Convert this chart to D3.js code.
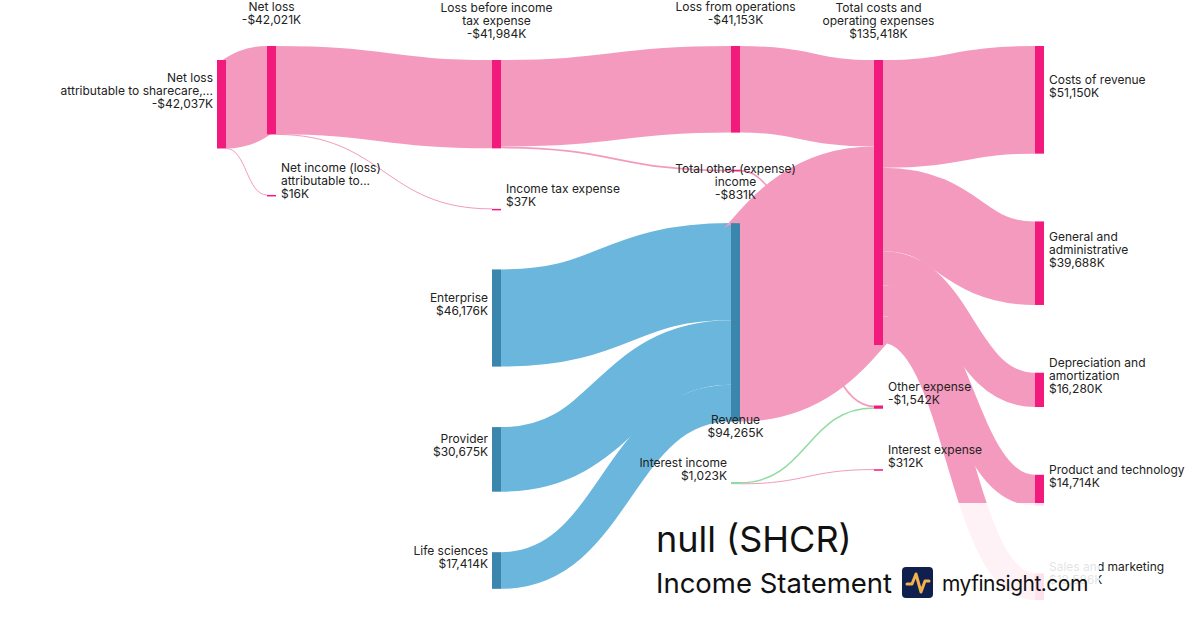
<!DOCTYPE html>
<html>
<head>
<meta charset="utf-8">
<script src="https://cdn.jsdelivr.net/npm/d3@7"></script>
<style>
  body { margin: 0; background: #fff; }
  svg { display: block; font-family: Inter, "Noto Sans", sans-serif; }
</style>
</head>
<body>
<svg id="chart"></svg>
<script>
const width = 1200, height = 630;

// ---- data ----
const nodeNames = [
  "Net loss\nattributable to sharecare,...",
  "Net loss",
  "Net income (loss)\nattributable to...",
  "Loss before income\ntax expense",
  "Income tax expense",
  "Enterprise",
  "Provider",
  "Life sciences",
  "Loss from operations",
  "Total other (expense)\nincome",
  "Revenue",
  "Interest income",
  "Total costs and\noperating expenses",
  "Other expense",
  "Interest expense",
  "Costs of revenue",
  "General and\nadministrative",
  "Depreciation and\namortization",
  "Product and technology",
  "Sales and marketing"
];
const nodeValues = [-42037, -42021, 16, -41984, 37, 46176, 30675, 17414, -41153, -831,
                    94265, 1023, 135418, -1542, 312, 51150, 39688, 16280, 14714, 12586];
const nodeStage = [0, 1, 1, 2, 2, 2, 2, 2, 3, 3, 3, 3, 4, 4, 4, 5, 5, 5, 5, 5];
const nodeKind = ["loss", "loss", "loss", "loss", "loss", "rev", "rev", "rev", "loss", "loss",
                  "rev", "inc", "loss", "loss", "loss", "loss", "loss", "loss", "loss", "loss"];

const linkSources = [0, 0, 1, 1, 3, 3, 8, 5, 6, 7, 10, 9, 11, 11, 12, 12, 12, 12, 12];
const linkTargets = [1, 2, 3, 4, 8, 9, 12, 10, 10, 10, 12, 13, 13, 14, 15, 16, 17, 18, 19];
const linkValues = [42021, 16, 41984, 37, 41153, 831, 41153, 46176, 30675, 17414, 94265,
                    831, 711, 312, 51150, 39688, 16280, 14714, 12586];
const linkKind = ["loss", "loss", "loss", "loss", "loss", "loss", "loss", "rev", "rev", "rev", "loss",
                  "loss", "inc", "loss", "loss", "loss", "loss", "loss", "loss"];

// ---- look ----
const nodeColor = { loss: "#f21a7c", rev: "#3a86ad", inc: "#8fdca0" };
const linkColor = { loss: "#f49abe", rev: "#6ab6dc", inc: "#8fdca0" };
const labelSide = ["left", "top", "right", "top", "right", "left", "left", "left", "top", "bottom",
                   "bottom", "left", "top", "right", "right", "right", "right", "right", "right", "right"];

const svg = d3.select("#chart").attr("width", width).attr("height", height);

const stageX = d3.scaleOrdinal().domain(d3.range(6)).range([217, 267, 492, 731, 874, 1035]);
const nodeW = 9;
const yTop = 46, yBottom = 600, py = 60.5, spread = 30;

const nodes = nodeNames.map((name, i) => ({
  index: i, name, signed: nodeValues[i], stage: nodeStage[i], kind: nodeKind[i],
  side: labelSide[i], lines: name.split("\n").length + 1, sourceLinks: [], targetLinks: []
}));
const links = linkValues.map((v, i) => ({
  index: i, source: nodes[linkSources[i]], target: nodes[linkTargets[i]], value: v, kind: linkKind[i]
}));
links.forEach(l => { l.source.sourceLinks.push(l); l.target.targetLinks.push(l); });
nodes.forEach(n => {
  n.value = Math.max(d3.sum(n.sourceLinks, l => l.value), d3.sum(n.targetLinks, l => l.value));
  n.x0 = stageX(n.stage); n.x1 = n.x0 + nodeW;
  n.minTop = yTop + Math.max(0, n.lines - 2) * 14;     // room for the label above
  n.gap = n.side === "bottom" ? py / 2 : py;            // room kept above the node
});

const ky = d3.scaleLinear().domain([0, d3.max(nodes, d => d.value)]).range([0, 285]);
links.forEach(l => l.width = ky(l.value));

// ---- layout: stack each stage, let pass-through nodes sit between their neighbours ----
const stages = d3.groups(nodes, d => d.stage).sort((a, b) => a[0] - b[0]).map(d => d[1]);
const byY = (a, b) => a.y0 - b.y0;

function sortLinks() {
  nodes.forEach(n => {
    n.sourceLinks.sort((a, b) => byY(a.target, b.target) || a.index - b.index);
    n.targetLinks.sort((a, b) => byY(a.source, b.source) || a.index - b.index);
  });
}
function targetTop(source, target) {
  let y = source.y0 - (source.sourceLinks.length - 1) * spread / 2;
  for (const l of source.sourceLinks) { if (l.target === target) break; y += l.width + spread; }
  for (const l of target.targetLinks) { if (l.source === source) break; y -= l.width; }
  return y;
}
function sourceTop(source, target) {
  let y = target.y0 - (target.targetLinks.length - 1) * spread / 2;
  for (const l of target.targetLinks) { if (l.source === source) break; y += l.width + spread; }
  for (const l of source.sourceLinks) { if (l.target === target) break; y -= l.width; }
  return y;
}
function anchor(n) {
  let y = 0, w = 0;
  n.targetLinks.forEach(l => { y += targetTop(l.source, n) * l.source.value; w += l.source.value; });
  n.sourceLinks.forEach(l => { y += sourceTop(n, l.target) * l.target.value; w += l.target.value; });
  return y / w;
}
function stackStage(col, useAnchor, isLast) {
  if (isLast) {
    // last stage is spread over the whole height
    const free = (yBottom - col[0].minTop - d3.sum(col, n => ky(n.value))) / (col.length - 1);
    let y = col[0].minTop;
    col.forEach(n => { n.y0 = y; n.y1 = y + ky(n.value); y = n.y1 + free; });
    return;
  }
  col.forEach((n, i) => {
    let y = i === 0 ? n.minTop : col[i - 1].y1 + n.gap;
    if (useAnchor && i > 0 && n.sourceLinks.length && n.targetLinks.length) y = Math.max(y, anchor(n));
    n.y0 = y; n.y1 = y + ky(n.value);
  });
}

for (let pass = 0; pass < 3; ++pass) {
  if (pass) sortLinks();
  stages.forEach((col, i) => stackStage(col, pass > 0, i === stages.length - 1));
}
sortLinks();
nodes.forEach(n => {
  let a = n.y0, b = n.y0;
  n.sourceLinks.forEach(l => { l.y0 = a + l.width / 2; a += l.width; });
  n.targetLinks.forEach(l => { l.y1 = b + l.width / 2; b += l.width; });
});

// ---- draw ----
const linkPath = d3.linkHorizontal()
  .source(d => [d.source.x1, d.y0])
  .target(d => [d.target.x0, d.y1]);

svg.append("g").attr("fill", "none")
  .selectAll("path")
  .data(links.slice().sort((a, b) => a.width - b.width))
  .join("path")
  .attr("d", linkPath)
  .attr("stroke", d => linkColor[d.kind])
  .attr("stroke-width", d => Math.max(1, d.width));

svg.append("g")
  .selectAll("rect")
  .data(nodes)
  .join("rect")
  .attr("x", d => d.x0)
  .attr("y", d => d.y0)
  .attr("width", nodeW)
  .attr("height", d => Math.max(1.5, d.y1 - d.y0))
  .attr("fill", d => nodeColor[d.kind]);

const money = v => (v < 0 ? "-$" : "$") + d3.format(",")(Math.abs(v)) + "K";
const lh = 13;

svg.append("g").attr("font-size", 12).attr("fill", "#222")
  .selectAll("text")
  .data(nodes)
  .join("text")
  .each(function (d) {
    const rows = d.name.split("\n").concat(money(d.signed));
    const n = rows.length;
    const cx = (d.x0 + d.x1) / 2, cy = (d.y0 + d.y1) / 2;
    let x, anchorPos, firstBase;
    if (d.side === "left") { x = d.x0 - 4; anchorPos = "end"; firstBase = cy - 13.5 - (n - 1) * lh / 2 + 4; }
    else if (d.side === "right") { x = d.x1 + 5; anchorPos = "start"; firstBase = cy - 13.5 - (n - 1) * lh / 2 + 4; }
    else if (d.side === "top") { x = cx; anchorPos = "middle"; firstBase = d.y0 - 22 - (n - 1) * lh; }
    else { x = cx; anchorPos = "middle"; firstBase = d.y1 + 2; }
    const t = d3.select(this).attr("text-anchor", anchorPos);
    rows.forEach((r, i) => t.append("tspan").attr("x", x).attr("y", firstBase + i * lh).text(r));
  });

// ---- title overlay ----
svg.append("rect").attr("x", 645).attr("y", 503).attr("width", 454).attr("height", 127)
  .attr("fill", "#fff").attr("fill-opacity", 0.87);
svg.append("text").attr("x", 656).attr("y", 552).attr("font-size", 36).attr("fill", "#111")
  .text("null (SHCR)");
svg.append("text").attr("x", 656).attr("y", 593).attr("font-size", 27.5).attr("fill", "#111")
  .text("Income Statement");
const logo = svg.append("g").attr("transform", "translate(902,567)");
logo.append("rect").attr("width", 31).attr("height", 31).attr("rx", 4).attr("fill", "#0f1f4e");
logo.append("path").attr("d", "M5,17 L10,17 L14,7 L19,25 L23,14 L27,14")
  .attr("fill", "none").attr("stroke", "#f0b24c").attr("stroke-width", 3)
  .attr("stroke-linecap", "round").attr("stroke-linejoin", "round");
svg.append("text").attr("x", 942).attr("y", 591).attr("font-size", 21).attr("letter-spacing", -0.5)
  .attr("fill", "#111").text("myfinsight.com");
</script>
</body>
</html>
